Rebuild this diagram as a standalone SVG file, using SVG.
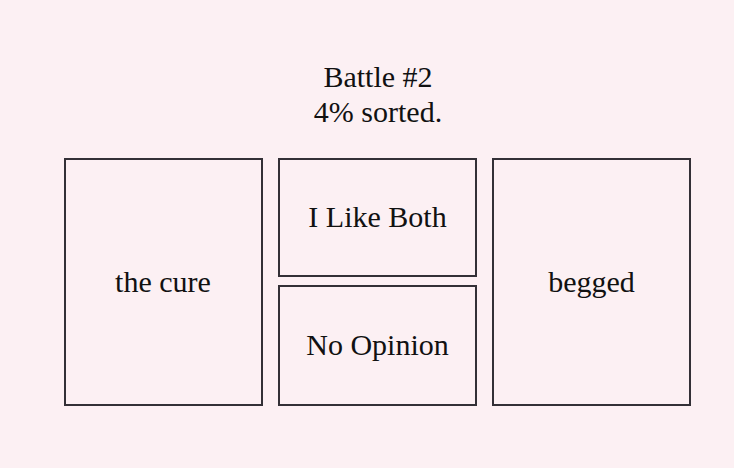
<svg xmlns="http://www.w3.org/2000/svg" width="734" height="468" viewBox="0 0 734 468">
<style>
.bg{fill:#fcf0f3}
.box{fill:#fcf0f3;stroke:#333036;stroke-width:2}
text{font-family:"Liberation Serif","Times New Roman",serif;font-size:30px;fill:#111;text-anchor:middle}
</style>
<rect class="bg" x="0" y="0" width="734" height="468"/>
<g id="title">
<text x="378" y="87">Battle #2</text>
<text x="378" y="122">4% sorted.</text>
</g>
<g id="left">
<rect class="box" x="65" y="159" width="197" height="246"/>
<text x="163" y="292">the cure</text>
</g>
<g id="both">
<rect class="box" x="279" y="159" width="197" height="117"/>
<text x="377.5" y="227">I Like Both</text>
</g>
<g id="none">
<rect class="box" x="279" y="286" width="197" height="119"/>
<text x="377.5" y="355">No Opinion</text>
</g>
<g id="right">
<rect class="box" x="493" y="159" width="197" height="246"/>
<text x="591.5" y="292">begged</text>
</g>
<g id="connectors"/>
</svg>
